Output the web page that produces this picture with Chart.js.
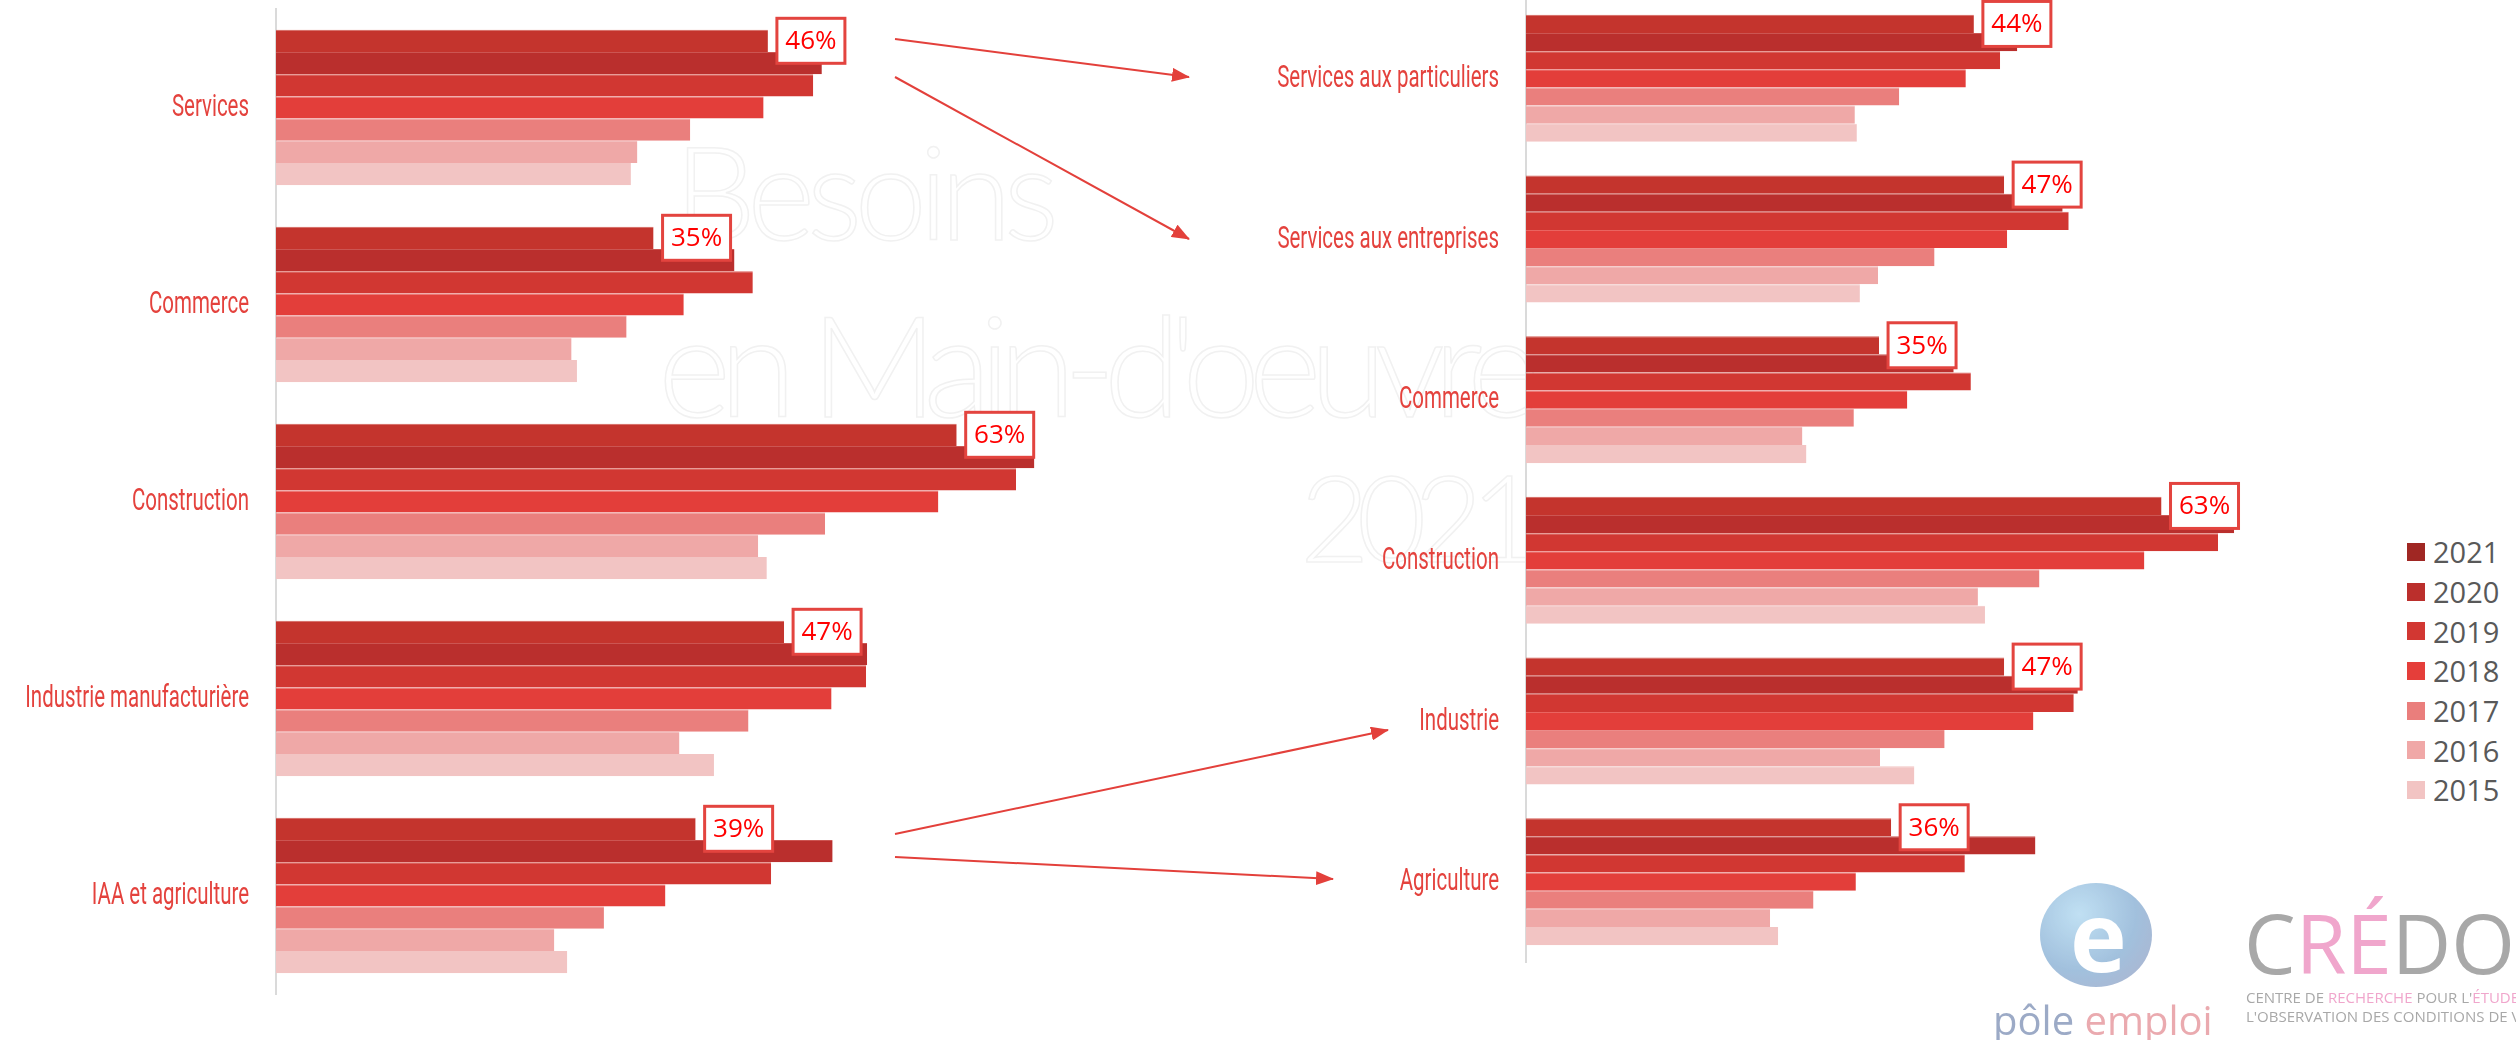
<!DOCTYPE html>
<html lang="fr">
<head>
<meta charset="utf-8">
<title>Besoins en Main-d'oeuvre 2021</title>
<script src="https://cdn.jsdelivr.net/npm/chart.js@4.4.1/dist/chart.umd.min.js"></script>
<style>
    html, body { margin: 0; padding: 0; background: #fff; }
    #page { position: relative; width: 2516px; height: 1040px; overflow: hidden; background: #fff; }
    canvas { position: absolute; }
    #leftChart { left: 0; top: 0; }
    #rightChart { left: 1250px; top: -2px; }
    svg { position: absolute; left: 0; top: 0; pointer-events: none; }
    #legend { position: absolute; left: 2407px; top: 532px; font-family: "Open Sans", "Liberation Sans", sans-serif; font-size: 29px; color: #595959; }
    #legend div { height: 39.7px; display: flex; align-items: center; }
    #legend span.box { width: 18px; height: 18px; margin-right: 8px; display: inline-block; }
    #pole { position: absolute; left: 2040px; top: 883px; width: 112px; height: 104px; border-radius: 50%;
        background: radial-gradient(circle at 35% 30%, #a6d3ee, #7aa6cf 55%, #8d92b8); opacity: 0.7; }
    #pole span { position: absolute; left: 30px; top: -14px; font: bold 96px "Open Sans", sans-serif; color: #fff; }
    #poleText { position: absolute; left: 1993px; top: 992px; font: 40px "Open Sans", sans-serif; white-space: nowrap; opacity: 0.85; }
    #credoc { position: absolute; left: 2244px; top: 886px; font: 500 82px "Open Sans", sans-serif; color: #a8a8a8; white-space: nowrap; letter-spacing: 0px; }
    #credocSub { position: absolute; left: 2246px; top: 988px; font: 15px "Open Sans", sans-serif; color: #a8a8a8; white-space: nowrap; line-height: 19px; }
    .pink { color: #f0a6cc; }
</style>
</head>
<body>
<div id="page">
    <svg width="2516" height="1040" style="z-index:0">
        <g fill="none" stroke="#f1f1f1" stroke-width="1.5" font-family="Lato, 'Open Sans', sans-serif" font-weight="300">
            <text x="674" y="240" font-size="130" textLength="385">Besoins</text>
            <text x="658" y="417" font-size="140" textLength="882">en Main-d'oeuvre</text>
            <text x="1300" y="562" font-size="120" textLength="240">2021</text>
        </g>
    </svg>
    <canvas id="leftChart" width="1139" height="1040"></canvas>
    <canvas id="rightChart" width="1083" height="1042"></canvas>
    <svg id="arrows" width="2516" height="1040" style="z-index:2">
        <defs>
            <marker id="tri" viewBox="0 0 18 14" refX="17" refY="7" markerWidth="18" markerHeight="14" markerUnits="userSpaceOnUse" orient="auto">
                <path d="M0,0 L18,7 L0,14 z" fill="#E3403B"></path>
            </marker>
        </defs>
        <g stroke="#E3403B" stroke-width="2" marker-end="url(#tri)">
            <line x1="895" y1="39" x2="1189" y2="77"></line>
            <line x1="895" y1="77" x2="1189" y2="239"></line>
            <line x1="895" y1="834" x2="1388" y2="730"></line>
            <line x1="895" y1="857" x2="1333" y2="879"></line>
        </g>
    </svg>
    <div id="legend"></div>
    <div id="pole"><span>e</span></div>
    <div id="poleText"><span style="color:#8b9cbd">pôle</span> <span style="color:#e79ca2">emploi</span></div>
    <div id="credoc">C<span class="pink">RÉ</span>DOC</div>
    <div id="credocSub">CENTRE DE <span class="pink">RECHERCHE</span> POUR L'<span class="pink">ÉTUDE</span> ET DE<br>L'OBSERVATION DES CONDITIONS DE VIE</div>
</div>

<script>
// Categories
const leftCategories = ['Services', 'Commerce', 'Construction', 'Industrie manufacturière', 'IAA et agriculture'];
const rightCategories = ['Services aux particuliers', 'Services aux entreprises', 'Commerce', 'Construction', 'Industrie', 'Agriculture'];
const years = ['2021', '2020', '2019', '2018', '2017', '2016', '2015'];

// Left chart values (%), one array per year
const left2021 = [45.6, 35.0, 63.1, 47.1, 38.9];
const left2020 = [50.6, 42.5, 70.3, 54.8, 51.6];
const left2019 = [49.8, 44.2, 68.6, 54.7, 45.9];
const left2018 = [45.2, 37.8, 61.4, 51.5, 36.1];
const left2017 = [38.4, 32.5, 50.9, 43.8, 30.4];
const left2016 = [33.5, 27.4, 44.7, 37.4, 25.8];
const left2015 = [32.9, 27.9, 45.5, 40.6, 27.0];

// Right chart values (%)
const right2021 = [44.4, 47.4, 35.0, 63.0, 47.4, 36.2];
const right2020 = [48.7, 53.2, 42.4, 70.2, 54.7, 50.5];
const right2019 = [47.0, 53.8, 44.1, 68.6, 54.3, 43.5];
const right2018 = [43.6, 47.7, 37.8, 61.3, 50.3, 32.7];
const right2017 = [37.0, 40.5, 32.5, 50.9, 41.5, 28.5];
const right2016 = [32.6, 34.9, 27.4, 44.8, 35.1, 24.2];
const right2015 = [32.8, 33.1, 27.8, 45.5, 38.5, 25.0];

const barColors = ['#C4342D', '#BA2F2D', '#D13732', '#E33E3A', '#EA7F7D', '#EFA8A7', '#F2C4C3'];
const edgeColors = ['#D4605A', '#CC5552', '#DC5F5A', '#EA6460', '#EC8C8A', '#F1B3B2', '#F2C4C3'];
const legendColors = ['#A02723', '#BB2F2C', '#D23732', '#E53E3A', '#EA7E7C', '#F0A8A7', '#F2C4C3'];

// category labels drawn in a narrow face next to the axis
const categoryLabels = {
    id: 'categoryLabels',
    afterDraw(chart) {
        const ctx = chart.ctx;
        const yScale = chart.scales.y;
        ctx.save();
        ctx.fillStyle = '#E4423D';
        ctx.font = '31px Roboto';
        ctx.textAlign = 'right';
        ctx.textBaseline = 'middle';
        chart.data.labels.forEach((label, i) => {
            ctx.save();
            ctx.translate(chart.chartArea.left - 27, yScale.getPixelForValue(i) + 1);
            ctx.scale(0.66, 1);
            ctx.fillText(label, 0, 0);
            ctx.restore();
        });
        ctx.restore();
    }
};

// boxed percentage on the 2021 bar
const valueBoxes = {
    id: 'valueBoxes',
    afterDatasetsDraw(chart) {
        const ctx = chart.ctx;
        const meta = chart.getDatasetMeta(0);
        const values = chart.data.datasets[0].data;
        ctx.save();
        meta.data.forEach((bar, i) => {
            const x = bar.x + 9;
            const y = bar.y - 22.5;
            ctx.fillStyle = '#fff';
            ctx.fillRect(x, y, 68, 45);
            ctx.strokeStyle = '#E3443F';
            ctx.lineWidth = 3;
            ctx.strokeRect(x, y, 68, 45);
            ctx.fillStyle = '#FF0000';
            ctx.font = '26px "Open Sans"';
            ctx.textAlign = 'center';
            ctx.textBaseline = 'middle';
            ctx.fillText(Math.round(values[i]) + '%', x + 34, bar.y + 1);
        });
        ctx.restore();
    }
};

function buildDatasets(series) {
    return series.map((data, i) => ({
        label: years[i],
        data: data,
        backgroundColor: barColors[i],
        borderColor: edgeColors[i],
        borderWidth: { top: 1, bottom: 0, left: 0, right: 0 },
        borderSkipped: false,
        categoryPercentage: 0.79,
        barPercentage: 1.0
    }));
}

function makeChart(canvasId, labels, series, padding) {
    return new Chart(document.getElementById(canvasId), {
        type: 'bar',
        data: { labels: labels, datasets: buildDatasets(series) },
        options: {
            indexAxis: 'y',
            responsive: false,
            animation: false,
            events: [],
            layout: { padding: padding },
            plugins: {
                legend: { display: false },
                tooltip: { enabled: false }
            },
            scales: {
                x: { display: false, min: 0, max: 80 },
                y: {
                    ticks: { display: false },
                    grid: { display: true, drawOnChartArea: false, drawTicks: false },
                    border: { color: '#DADADA', width: 2 },
                    afterFit: scale => { scale.width = 276; }
                }
            }
        },
        plugins: [categoryLabels, valueBoxes]
    });
}

makeChart('leftChart', leftCategories,
    [left2021, left2020, left2019, left2018, left2017, left2016, left2015],
    { top: 9, bottom: 46, left: 0, right: 0 });

makeChart('rightChart', rightCategories,
    [right2021, right2020, right2019, right2018, right2017, right2016, right2015],
    { top: 0, bottom: 78, left: 0, right: 0 });

// legend
const legend = document.getElementById('legend');
years.forEach((year, i) => {
    const row = document.createElement('div');
    row.innerHTML = `<span class="box" style="background:${legendColors[i]}"></span>${year}`;
    legend.appendChild(row);
});
</script>
</body>
</html>
